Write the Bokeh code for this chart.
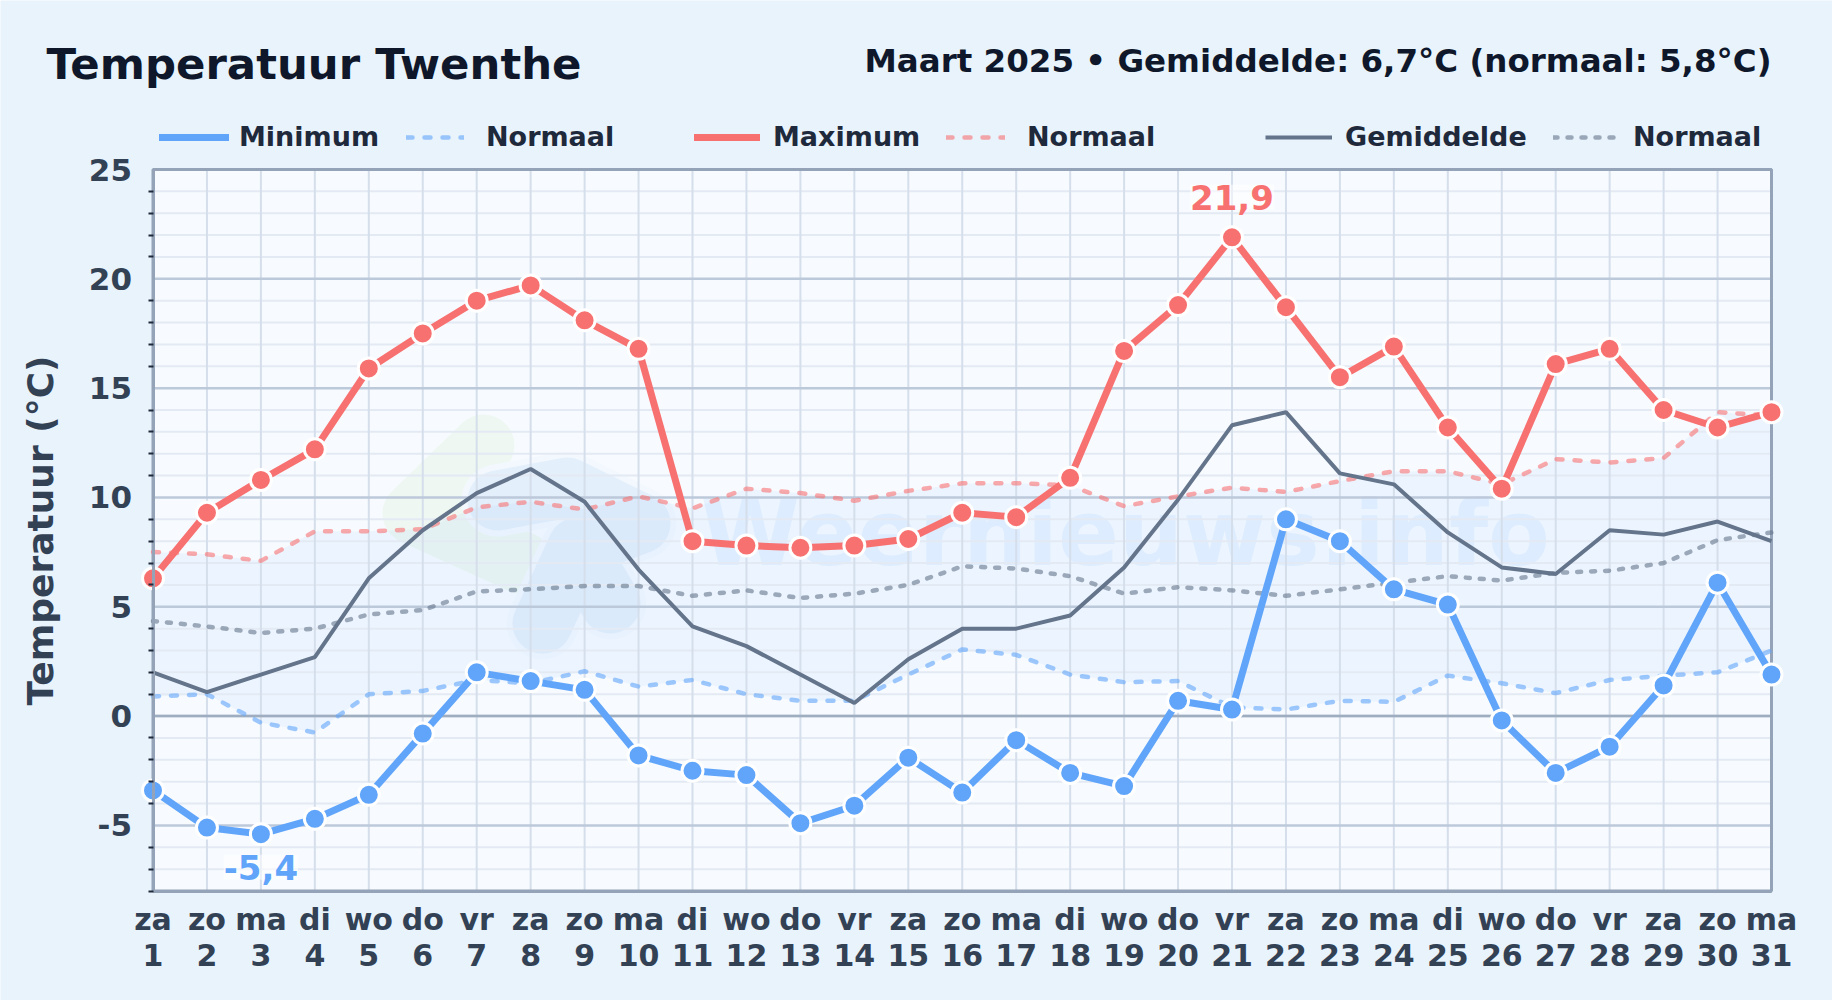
from bokeh.plotting import figure
from bokeh.embed import file_html
from bokeh.resources import INLINE
from bokeh.models import Range1d, FixedTicker, Legend, LegendItem, LinearAxis
from bokeh.core.properties import value

days = list(range(1, 32))
weekdays = ["za","zo","ma","di","wo","do","vr","za","zo","ma","di","wo","do","vr","za","zo","ma","di","wo","do","vr","za","zo","ma","di","wo","do","vr","za","zo","ma"]
t_min = [-3.4,-5.1,-5.4,-4.7,-3.6,-0.8,2.0,1.6,1.2,-1.8,-2.5,-2.7,-4.9,-4.1,-1.9,-3.5,-1.1,-2.6,-3.2,0.7,0.3,9.0,8.0,5.8,5.1,-0.2,-2.6,-1.4,1.4,6.1,1.9]
t_max = [6.3,9.3,10.8,12.2,15.9,17.5,19.0,19.7,18.1,16.8,8.0,7.8,7.7,7.8,8.1,9.3,9.1,10.9,16.7,18.8,21.9,18.7,15.5,16.9,13.2,10.4,16.1,16.8,14.0,13.2,13.9]
t_mean = [2.0,1.1,1.9,2.7,6.3,8.5,10.2,11.3,9.8,6.7,4.1,3.2,1.9,0.6,2.6,4.0,4.0,4.6,6.8,9.9,13.3,13.9,11.1,10.6,8.4,6.8,6.5,8.5,8.3,8.9,8.0]
n_min = [0.9,1.0,-0.3,-0.75,1.0,1.15,1.65,1.5,2.05,1.35,1.65,1.0,0.7,0.7,1.9,3.05,2.8,1.9,1.55,1.6,0.4,0.3,0.7,0.65,1.85,1.5,1.05,1.65,1.85,2.0,3.0]
n_max = [7.5,7.4,7.1,8.45,8.45,8.55,9.55,9.8,9.45,10.05,9.5,10.4,10.2,9.85,10.3,10.65,10.65,10.55,9.6,10.05,10.45,10.25,10.75,11.2,11.2,10.6,11.75,11.6,11.8,13.9,13.75]
n_mean = [4.35,4.1,3.8,4.0,4.65,4.85,5.7,5.8,5.95,5.95,5.5,5.75,5.4,5.6,6.0,6.85,6.75,6.4,5.6,5.9,5.75,5.5,5.8,6.1,6.4,6.2,6.55,6.65,7.0,8.05,8.4]
y_major = [-5,0,5,10,15,20,25]
y_minor = [v for v in range(-8,25) if v % 5 != 0]
title = "Temperatuur Twenthe"
subtitle = "Maart 2025 • Gemiddelde: 6,7°C (normaal: 5,8°C)"

BLUE, RED, SLATE = "#60a5fa", "#f87171", "#64748b"
PAGE = "#e8f3fc"
W, H = 1832, 1000
L, R, T, B = 152.5, 1771, 169, 890.5   # plot box on the page
XMIN, XMAX, YMIN, YMAX = 1, 31, -8, 25
ppx = (R-L)/(XMAX-XMIN); ppy = (B-T)/(YMAX-YMIN)
def dx(px): return XMIN + (px-L)/ppx
def dy(py): return YMAX - (py-T)/ppy

p = figure(width=W, height=H, output_backend="svg", toolbar_location=None,
           x_range=Range1d(dx(0), dx(W)), y_range=Range1d(dy(H), dy(0)),
           min_border=0, background_fill_color=PAGE, border_fill_color=PAGE, outline_line_color=None)
p.grid.visible = False

# plot box
p.quad(left=[XMIN],right=[XMAX],bottom=[YMIN],top=[YMAX],fill_color="#f7fbff",line_color=None,level="image")

# watermark logo and text (positions given in page pixels)
green = [(483,445),(413,513),(523,563)]
blue = [(497,500),(567,487),(640,523),(577,547),(542,623),(577,547),(610,603)]
def lg(pts,col,w):
    p.line([dx(a) for a,b in pts],[dy(b) for a,b in pts],line_color=col,line_width=w,line_cap="round",line_join="round",level="image")
lg(green,"#eef7f2",62)
lg(blue,"#f3f8fe",72)
lg(blue,"#e3effb",60)
p.text([dx(700)],[dy(533)],text=["Weernieuws.info"],text_font=value("DejaVu Sans"),text_font_style="bold",
       text_font_size="90px",text_color="#60a5fa",text_alpha=0.1,text_baseline="alphabetic",level="image")

# normal band
p.varea(days, n_min, n_max, fill_color="#60a5fa", fill_alpha=0.07, level="image")

# grid
def hlines(vals,col,w):
    p.segment([XMIN]*len(vals),vals,[XMAX]*len(vals),vals,line_color=col,line_width=w,level="underlay")
hlines(y_minor,"#e4eaf3",2)
p.segment(days,[YMIN]*len(days),days,[YMAX]*len(days),line_color="#d5deeb",line_width=2,level="underlay")
hlines(y_major,"#bcc9da",2.5)
hlines([0],"#9fadc0",2.5)
p.quad(left=[XMIN],right=[XMAX],bottom=[YMIN],top=[YMAX],fill_color=None,line_color="#94a3b8",line_width=3,level="underlay")

# axes
p.xaxis.ticker = FixedTicker(ticks=days)
p.xaxis.major_label_overrides = {d: w for d, w in zip(days, weekdays)}
p.xaxis.fixed_location = YMIN
p.xaxis.bounds = (XMIN, XMAX)
x2 = LinearAxis(ticker=FixedTicker(ticks=days), fixed_location=YMIN, bounds=(XMIN,XMAX))
p.add_layout(x2, "below")
p.yaxis.ticker = FixedTicker(ticks=y_major, minor_ticks=y_minor)
p.yaxis.major_label_overrides = {v: str(v) for v in y_major}
p.yaxis.fixed_location = XMIN
p.yaxis.bounds = (YMIN, YMAX)
for a in (p.xaxis[0], x2, p.yaxis[0]):
    a.axis_line_color = "#94a3b8"; a.axis_line_width = 3
    a.major_tick_line_color = None
    a.major_label_text_font = "DejaVu Sans"; a.major_label_text_font_style = "bold"
    a.major_label_text_font_size = "30px"; a.major_label_text_color = "#334155"
p.yaxis.major_label_text_font_size = "31px"
p.xaxis[0].minor_tick_line_color = None; x2.minor_tick_line_color = None
p.xaxis[0].major_label_standoff = 5
x2.major_label_standoff = 47
p.yaxis.major_label_standoff = 15
p.yaxis.minor_tick_out = 5; p.yaxis.minor_tick_in = 0
p.yaxis.minor_tick_line_color = "#1e293b"; p.yaxis.minor_tick_line_width = 2
p.yaxis.axis_label = "Temperatuur (°C)"
p.yaxis.axis_label_text_font = "DejaVu Sans"; p.yaxis.axis_label_text_font_style = "bold"
p.yaxis.axis_label_text_font_size = "36px"; p.yaxis.axis_label_text_color = "#334155"
p.yaxis.axis_label_standoff = 25

# series
r_nmin = p.line(days,n_min,line_color=BLUE,line_alpha=0.6,line_width=4.5,line_dash="6 12",line_cap="round")
r_nmax = p.line(days,n_max,line_color=RED,line_alpha=0.6,line_width=4.5,line_dash="6 12",line_cap="round")
r_nmean = p.line(days,n_mean,line_color=SLATE,line_alpha=0.6,line_width=4.5,line_dash="4 10",line_cap="round")
r_mean = p.line(days,t_mean,line_color=SLATE,line_width=4)
r_max = p.line(days,t_max,line_color=RED,line_width=7,line_cap="round",line_join="round")
r_min = p.line(days,t_min,line_color=BLUE,line_width=7,line_cap="round",line_join="round")
p.scatter(days,t_max,size=21,fill_color=RED,line_color="white",line_width=3)
p.scatter(days,t_min,size=21,fill_color=BLUE,line_color="white",line_width=3)

# extreme labels
imax = t_max.index(max(t_max)); imin = t_min.index(min(t_min))
for i, ser, col, off in ((imax,t_max,RED,-40),(imin,t_min,BLUE,33)):
    p.text([days[i]],[ser[i]],text=[f"{ser[i]:.1f}".replace(".",",")],text_align="center",text_baseline="alphabetic",y_offset=off,
           text_font=value("DejaVu Sans"),text_font_style="bold",text_font_size="34px",text_color=col,
           background_fill_color="white",background_fill_alpha=0.55)

# legend
def legend(lbl, rnd, x0, gw, standoff):
    l = Legend(items=[LegendItem(label=lbl, renderers=[rnd])], location=(x0, H-152), orientation="horizontal",
               background_fill_alpha=0, border_line_alpha=0, margin=0, padding=0, glyph_width=gw, glyph_height=30,
               label_standoff=standoff, label_text_font="DejaVu Sans", label_text_font_style="bold",
               label_text_font_size="27px", label_text_color="#1e293b")
    p.add_layout(l, "center")
legend("Minimum", r_min, 159, 70, 10)
legend("Normaal", r_nmin, 406, 58, 22)
legend("Maximum", r_max, 694, 66, 13)
legend("Normaal", r_nmax, 946, 59, 22)
legend("Gemiddelde", r_mean, 1265, 67, 13)
legend("Normaal", r_nmean, 1553, 65, 15)

# headers
p.text([dx(46)],[dy(63.5)],text=[title],text_font=value("DejaVu Sans"),text_font_style="bold",text_font_size="43.4px",
       text_color="#0f172a",text_baseline="alphabetic")
p.text([dx(1771)],[dy(60)],text=[subtitle],text_font=value("DejaVu Sans"),text_font_style="bold",text_font_size="32.5px",
       text_color="#0f172a",text_align="right",text_baseline="alphabetic")

open("out.html","w").write(file_html(p, INLINE))
